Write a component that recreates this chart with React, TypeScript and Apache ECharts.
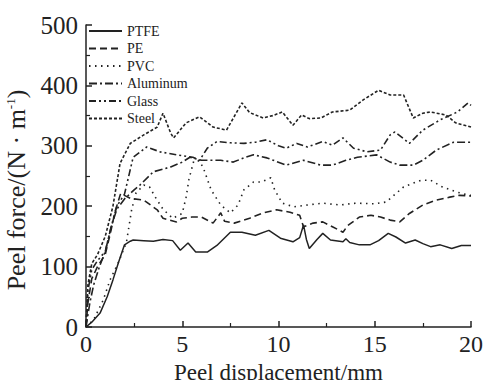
import React, { useEffect, useRef } from "react";
import * as echarts from "echarts";

const seriesNames = ["PTFE", "PE", "PVC", "Aluminum", "Glass", "Steel"];
const xTicks = [0, 5, 10, 15, 20];
const yTicks = [0, 100, 200, 300, 400, 500];

const ptfe = [[0,0],[0.3,8],[0.73,23],[1.1,50],[1.4,78],[1.7,108],[2.0,136],[2.3,142],[2.45,144],[3,143],[3.5,142],[4,145],[4.5,143],[4.9,127],[5.3,139],[5.7,124],[6.3,124],[6.8,135],[7.5,157],[8.1,157],[8.8,152],[9.5,160],[10.1,147],[10.75,141],[11.1,148],[11.3,169],[11.45,145],[11.6,130],[12,145],[12.3,155],[12.7,144],[13.35,141],[13.5,146],[13.7,140],[14.2,136],[14.75,136],[15.2,143],[15.7,155],[16.1,149],[16.6,139],[17.1,144],[17.5,138],[17.9,133],[18.4,136],[19.0,130],[19.5,135],[20,135]];
const pe = [[0,0],[0.1,40],[0.3,80],[0.6,100],[1,120],[1.3,160],[1.5,190],[1.8,221],[2.3,213],[3.0,210],[3.7,194],[4.0,180],[4.7,174],[5.0,180],[5.5,182],[6.0,182],[6.6,172],[7.0,189],[7.2,175],[7.7,172],[8.5,180],[9.2,189],[9.9,194],[10.6,190],[11.1,185],[11.3,166],[11.8,172],[12.3,174],[12.8,166],[13.35,157],[13.6,168],[14.2,182],[14.8,185],[15.3,182],[15.8,177],[16.3,174],[16.8,188],[17.5,202],[18.2,210],[18.9,215],[19.4,218],[20,217]];
const pvc = [[0,0],[0.4,12],[0.9,45],[1.25,78],[1.7,108],[2.1,140],[2.37,194],[2.6,222],[3.0,235],[3.3,232],[3.6,215],[4.0,195],[4.5,180],[5.0,188],[5.2,215],[5.35,245],[5.6,275],[5.9,275],[6.1,263],[6.5,227],[7.0,202],[7.5,189],[7.9,202],[8.2,227],[8.7,240],[9.1,240],[9.6,247],[9.8,227],[10.2,205],[10.8,199],[11.5,202],[12.3,205],[13.2,202],[14,205],[15,204],[15.6,207],[16.5,232],[17.4,243],[17.9,243],[18.5,232],[19.2,224],[19.9,218],[20,218]];
const aluminum = [[0,0],[0.2,40],[0.4,70],[0.7,100],[1,125],[1.3,165],[1.6,195],[2,212],[2.5,227],[2.8,235],[3.5,257],[4.4,265],[5.0,273],[5.4,281],[6,276],[7,276],[7.65,273],[8.2,280],[8.7,285],[9.4,280],[10.4,268],[11.3,276],[12.2,268],[12.8,268],[13.5,276],[14.1,281],[15.1,285],[15.8,273],[16.3,268],[17,268],[17.5,276],[18.2,293],[19.1,306],[20,306]];
const glass = [[0,0],[0.1,60],[0.3,95],[0.6,110],[1,125],[1.3,165],[1.6,200],[2,220],[2.45,281],[3.15,298],[3.85,290],[4.7,285],[5.55,281],[5.9,276],[6.3,296],[6.8,307],[7.5,305],[8.2,304],[8.8,306],[9.4,310],[10,300],[10.4,296],[10.95,304],[11.5,298],[12.3,307],[12.8,301],[13.35,313],[13.9,296],[14.6,290],[15.3,293],[15.8,318],[16.05,323],[16.8,304],[17.5,326],[18.4,343],[19.3,356],[19.85,371],[20,367]];
const steel = [[0,0],[0.1,70],[0.3,105],[0.6,120],[1.0,150],[1.4,200],[1.77,271],[2.3,304],[3,318],[3.7,331],[4.0,354],[4.4,321],[4.55,313],[5.2,338],[5.9,348],[6.6,331],[7.3,326],[8.1,371],[8.5,355],[9.2,346],[9.7,350],[10.2,356],[10.75,334],[11.2,351],[11.6,345],[12.2,346],[12.8,356],[13.7,359],[14.4,376],[15.2,392],[15.8,384],[16.5,384],[17,346],[17.5,354],[17.9,356],[18.7,351],[19.2,338],[20,331]];

const seriesData = [ptfe, pe, pvc, aluminum, glass, steel];
const dashes: any[] = ["solid", [7, 4], [1.5, 4.5], [8, 3, 2, 3], [7, 3, 2, 3, 2, 3], [3, 2]];

export default function App() {
  const ref = useRef<HTMLDivElement>(null);
  useEffect(() => {
    const chart = echarts.init(ref.current!, undefined, { renderer: "svg" });
    const font = "Liberation Serif";
    const t = { fontFamily: font, color: "#222" };
    chart.setOption({
      animation: false,
      backgroundColor: "#fff",
      textStyle: { fontFamily: font },
      grid: { left: 86, right: 15, top: 25, bottom: 53, outerBoundsMode: "none", containLabel: false },
      legend: {
        orient: "vertical",
        left: 88,
        top: 24,
        padding: 0,
        itemWidth: 33,
        itemHeight: 10,
        itemGap: 3.5,
        itemStyle: { opacity: 0 },
        textStyle: { fontFamily: font, fontSize: 14, color: "#222" },
        data: seriesNames,
      },
      xAxis: {
        type: "value",
        min: 0,
        max: 20,
        interval: 5,
        name: "Peel displacement/mm",
        nameLocation: "middle",
        nameGap: 25,
        nameTextStyle: { ...t, fontSize: 23 },
        axisLine: { lineStyle: { color: "#222", width: 1.5 } },
        axisTick: { inside: true, length: 6, lineStyle: { color: "#222", width: 1.5 } },
        minorTick: { show: true, splitNumber: 2, length: 4, lineStyle: { color: "#222", width: 1.2 } },
        axisLabel: {
          ...t,
          fontSize: 24,
          margin: 5,
          formatter: (v: number) => (xTicks.includes(v) ? String(v) : ""),
        },
        splitLine: { show: false },
      },
      yAxis: {
        type: "value",
        min: 0,
        max: 500,
        interval: 100,
        name: "{a|Peel force/(N · m}{s|-1}{a|)}",
        nameLocation: "middle",
        nameGap: 52,
        nameTextStyle: {
          ...t,
          fontSize: 26,
          padding: [0, 28, 0, 0],
          rich: {
            a: { ...t, fontSize: 26 },
            s: { ...t, fontSize: 13, padding: [0, 0, 13, 0] },
          },
        },
        axisLine: { show: true, lineStyle: { color: "#222", width: 1.5 } },
        axisTick: { show: true, inside: true, length: 6, lineStyle: { color: "#222", width: 1.5 } },
        minorTick: { show: true, splitNumber: 2, length: 4, lineStyle: { color: "#222", width: 1.2 } },
        axisLabel: {
          ...t,
          fontSize: 25,
          margin: 8,
          formatter: (v: number) => (yTicks.includes(v) ? String(v) : ""),
        },
        splitLine: { show: false },
      },
      series: seriesNames.map((n, i) => ({
        name: n,
        type: "line",
        data: seriesData[i],
        showSymbol: false,
        symbol: "none",
        lineStyle: { color: "#222", width: i === 0 ? 1.5 : 1.6, type: dashes[i] },
        itemStyle: { color: "#222" },
      })),
    });
    return () => chart.dispose();
  }, []);
  return <div ref={ref} style={{ width: 486, height: 380, position: "absolute", left: 0, top: 0 }} />;
}
